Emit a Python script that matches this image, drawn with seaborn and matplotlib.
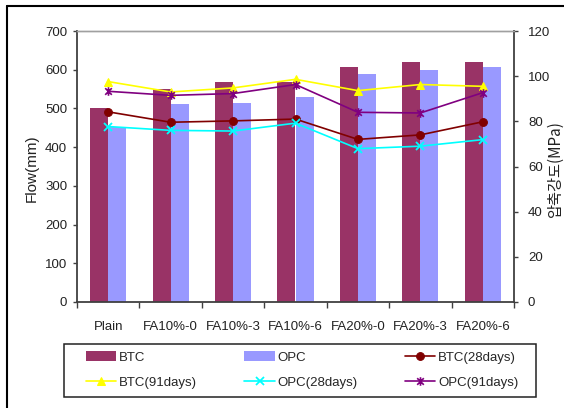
import numpy as np
import pandas as pd
import matplotlib
matplotlib.use("Agg")
import matplotlib.pyplot as plt
import seaborn as sns
from matplotlib.path import Path
from matplotlib.lines import Line2D
from matplotlib.patches import Rectangle

categories = ["Plain", "FA10%-0", "FA10%-3", "FA10%-6", "FA20%-0", "FA20%-3", "FA20%-6"]
flow_btc = [500, 551, 567, 569, 607, 620, 620]
flow_opc = [452, 512, 515, 530, 590, 600, 607]
btc_28 = [84.2, 79.6, 80.2, 81.0, 72.0, 74.0, 79.8]
btc_91 = [97.6, 93.0, 94.8, 98.6, 93.6, 96.3, 95.5]
opc_28 = [77.7, 76.0, 75.7, 79.2, 67.9, 69.0, 71.9]
opc_91 = [93.3, 91.5, 92.3, 96.3, 84.0, 83.7, 92.7]
flow_ticks = list(range(0, 701, 100))
strength_ticks = list(range(0, 121, 20))

sns.set_theme(style="white")
plt.rcParams["font.family"] = ["Liberation Sans", "DejaVu Sans"]

W, H = 564, 408
fig = plt.figure(figsize=(W / 100, H / 100), dpi=100)
fig.patch.set_facecolor("white")
ax = fig.add_axes([77 / W, 1 - 302 / H, (514 - 77) / W, (302 - 31) / H])

# Flow bars, grouped by cement type
flow = pd.DataFrame({
    "mix": categories * 2,
    "cement": ["BTC"] * len(categories) + ["OPC"] * len(categories),
    "flow": flow_btc + flow_opc,
})
sns.barplot(data=flow, x="mix", y="flow", hue="cement",
            palette={"BTC": "#993366", "OPC": "#9999FF"},
            width=0.577, saturation=1, linewidth=0, ax=ax)
bar_handles, bar_labels = ax.get_legend_handles_labels()
ax.get_legend().remove()

ax.set_xlim(-0.5, len(categories) - 0.5)
ax.set_ylim(0, 700)
ax.set_yticks(flow_ticks)
ax.set_xlabel("")

# Compressive strength lines on the secondary axis
ax2 = ax.twinx()
ax2.set_ylim(0, 120)
ax2.set_yticks(strength_ticks)
pos = np.arange(len(categories))

star = Path([(-1, -1), (1, 1), (-1, 1), (1, -1), (0, -1.3), (0, 1.3)],
            [Path.MOVETO, Path.LINETO] * 3)

series = [
    ("BTC(28days)", btc_28, "#800000", dict(marker="o", markersize=5.6, markerfacecolor="#800000", markeredgecolor="#800000")),
    ("BTC(91days)", btc_91, "#FFFF00", dict(marker="^", markersize=6.2, markerfacecolor="#FFFF00", markeredgecolor="#FFFF00")),
    ("OPC(28days)", opc_28, "#00FFFF", dict(marker="x", markersize=5.5, markeredgewidth=1.3, markeredgecolor="#00FFFF")),
    ("OPC(91days)", opc_91, "#800080", dict(marker=star, markersize=6.2, markeredgewidth=1.2, markeredgecolor="#800080", markerfacecolor="none")),
]
line_handles = {}
for label, vals, color, mk in series:
    sns.lineplot(x=pos, y=vals, ax=ax2, color=color, linewidth=1.2, label=label, **mk)
hl, ll = ax2.get_legend_handles_labels()
for h, l in zip(hl, ll):
    line_handles[l] = h
ax2.get_legend().remove()

# Ticks and spines
tick_color = "#222222"
ax.set_xticks(pos, categories)
ax.set_xticks(np.arange(-0.5, len(categories), 1), minor=True)
ax.tick_params(axis="x", which="major", bottom=False, length=0, pad=14, labelsize=9.5, labelcolor=tick_color)
ax.tick_params(axis="x", which="minor", bottom=True, direction="out", length=4, width=1, color="#404040")
ax.tick_params(axis="y", left=True, direction="out", length=3, width=1, pad=4, labelsize=9.5,
               color="#404040", labelcolor=tick_color)
ax2.tick_params(axis="y", right=True, direction="out", length=3, width=1, pad=7, labelsize=9.5,
                color="#404040", labelcolor=tick_color)

for name in ["left", "bottom"]:
    ax.spines[name].set_color("#404040")
    ax.spines[name].set_linewidth(1.3)
ax.spines["top"].set_color("#a0a0a0")
ax.spines["top"].set_linewidth(1)
ax.spines["right"].set_visible(False)
ax2.spines["right"].set_color("#404040")
ax2.spines["right"].set_linewidth(1.3)
ax2.spines["top"].set_color("#a0a0a0")
ax2.spines["top"].set_linewidth(1)
ax2.spines["left"].set_visible(False)
ax2.spines["bottom"].set_visible(False)

# Axis titles
ax.set_ylabel("Flow(mm)", fontsize=11, color=tick_color)
ax.yaxis.label.set_va("center")
ax.yaxis.set_label_coords((32 - 77) / 437, 0.494)
ax2.set_ylabel("압축강도(MPa)", fontsize=11, color=tick_color,
               family=["Noto Sans CJK KR", "DejaVu Sans"])
ax2.yaxis.label.set_va("center")
ax2.yaxis.set_label_coords((555.5 - 77) / 437, 0.494)

# Legend below the plot: row-major order across three columns
order = [bar_handles[0], line_handles["BTC(91days)"], bar_handles[1],
         line_handles["OPC(28days)"], line_handles["BTC(28days)"], line_handles["OPC(91days)"]]
names = ["BTC", "BTC(91days)", "OPC", "OPC(28days)", "BTC(28days)", "OPC(91days)"]
fig.legend(order, names, ncol=3, frameon=False, fontsize=9.5,
           handlelength=2.3, handleheight=0.8, handletextpad=0.2,
           columnspacing=3.6, labelspacing=0.95, borderpad=0, borderaxespad=0,
           loc="upper left", bbox_to_anchor=(86 / W, 1 - 351 / H),
           bbox_transform=fig.transFigure)
fig.add_artist(Rectangle((64 / W, 1 - 397 / H), 472 / W, 53 / H, transform=fig.transFigure,
                         fill=False, edgecolor="#222222", linewidth=1.1))

# Outer border along the top and left edges
fig.add_artist(Line2D([7 / W, 7 / W], [0, 1 - 6 / H], transform=fig.transFigure, color="black", linewidth=1.5))
fig.add_artist(Line2D([7 / W, 1], [1 - 6 / H, 1 - 6 / H], transform=fig.transFigure, color="black", linewidth=1.5))

fig.savefig("out.png", dpi=100)
